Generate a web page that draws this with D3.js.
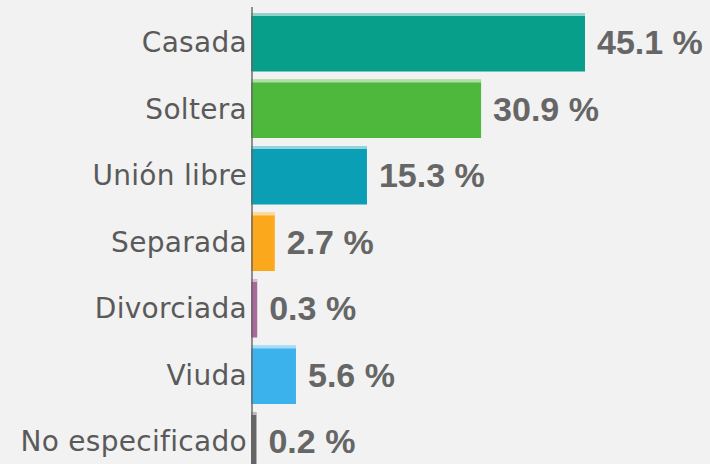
<!DOCTYPE html>
<html>
<head>
<meta charset="utf-8">
<script src="https://cdn.jsdelivr.net/npm/d3@7"></script>
<style>
  html, body { margin: 0; padding: 0; background: #f2f2f2; }
  svg { display: block; }
  .cat { font-family: "DejaVu Sans", sans-serif; font-size: 28px; fill: #5a5a5a; letter-spacing: 0.3px; }
  .val { font-family: "Liberation Sans", Arial, sans-serif; font-size: 34px; font-weight: bold; fill: #666; }
</style>
</head>
<body>
<script>
var W = 710, H = 464;
var axisX = 251;

// data
var categories = ["Casada", "Soltera", "Unión libre", "Separada", "Divorciada", "Viuda", "No especificado"];
var values = [45.1, 30.9, 15.3, 2.7, 0.3, 5.6, 0.2];
var palette = ["#079e8a", "#4db83c", "#0a9fb5", "#fba81c", "#a8699b", "#3cb2ec", "#666666"];

var data = categories.map(function (c, i) { return { cat: c, value: values[i] }; });

var svg = d3.select("body").append("svg")
    .attr("width", W)
    .attr("height", H);

var yScale = d3.scaleBand()
    .domain(categories)
    .range([13, 470.5])
    .paddingInner(0.12)
    .paddingOuter(0);

// bars keep a small minimum stub at the axis
var xScale = d3.scaleLinear()
    .domain([0, 45.1])
    .range([4, 334]);

var color = d3.scaleOrdinal()
    .domain(categories)
    .range(palette);

var g = svg.append("g")
    .attr("transform", "translate(" + axisX + ",0)");

var bar = g.selectAll(".bar")
    .data(data)
    .enter().append("g")
    .attr("class", "bar")
    .attr("transform", function (d) { return "translate(0," + yScale(d.cat) + ")"; });

bar.append("rect")
    .attr("width", function (d) { return xScale(d.value); })
    .attr("height", yScale.bandwidth())
    .style("fill", function (d) { return color(d.cat); });

// light top edge
bar.append("rect")
    .attr("width", function (d) { return xScale(d.value); })
    .attr("height", 3)
    .style("fill", "#fff")
    .style("opacity", 0.55);

// value labels
bar.append("text")
    .attr("class", "val")
    .attr("x", function (d) { return xScale(d.value) + 12; })
    .attr("y", yScale.bandwidth() / 2)
    .attr("dy", "0.35em")
    .text(function (d) { return d3.format(".1f")(d.value) + " %"; });

// category labels
bar.append("text")
    .attr("class", "cat")
    .attr("x", -4)
    .attr("y", yScale.bandwidth() / 2)
    .attr("dy", "0.35em")
    .style("text-anchor", "end")
    .text(function (d) { return d.cat; });

// axis line
svg.append("line")
    .attr("x1", axisX + 1).attr("x2", axisX + 1)
    .attr("y1", 7).attr("y2", H)
    .style("stroke", "#666")
    .style("stroke-width", 2)
    .style("opacity", 0.7);
</script>
</body>
</html>
